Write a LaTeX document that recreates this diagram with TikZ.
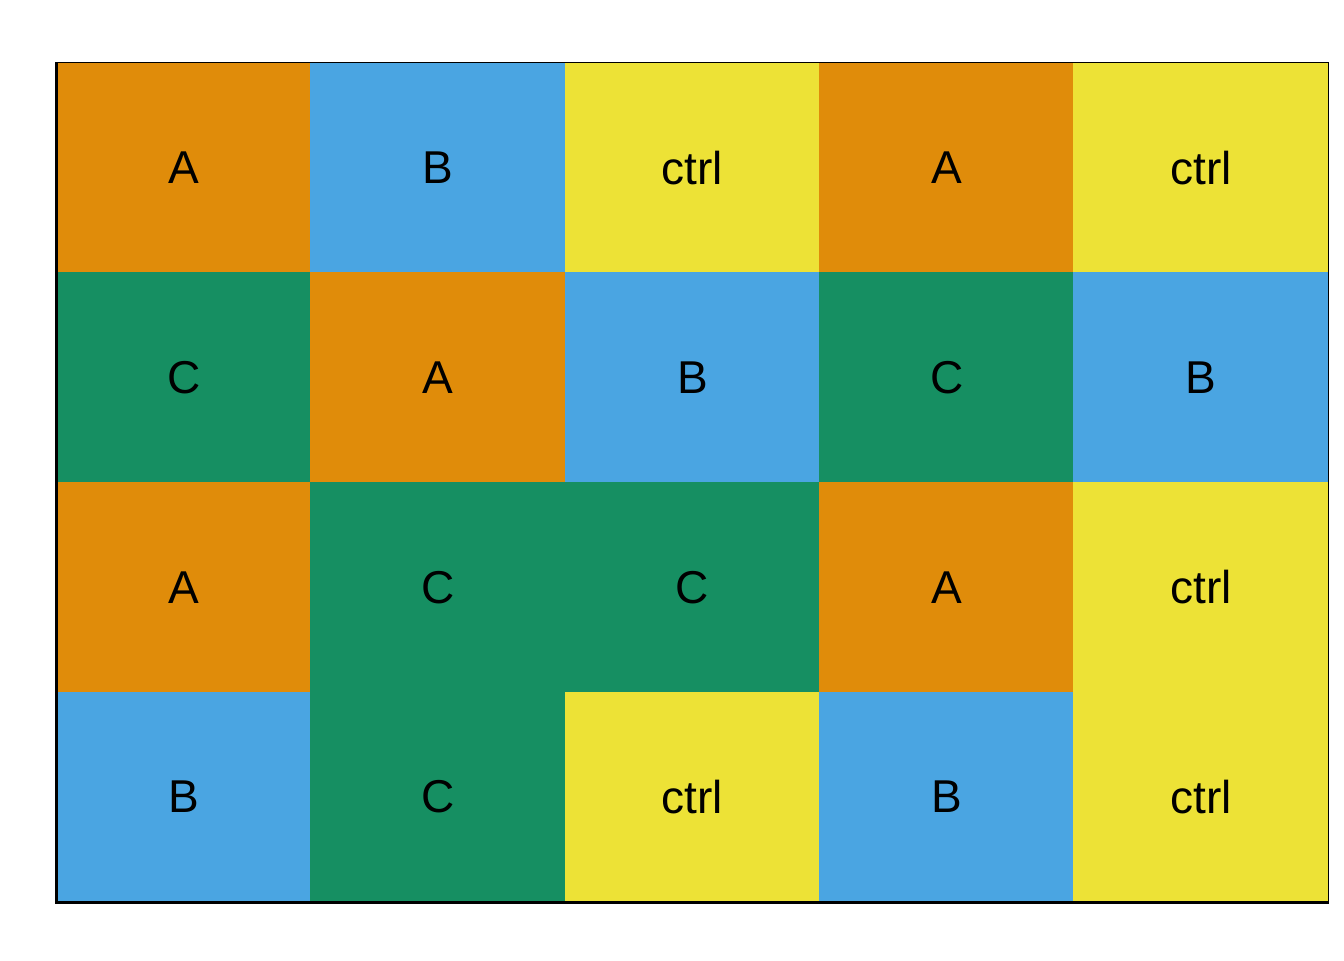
\documentclass[tikz,border=0pt]{standalone}
\usepackage{fontspec}
\setmainfont{Liberation Sans}
\usepackage{tikz}
\usetikzlibrary{positioning}
\definecolor{kA}{RGB}{224,140,10}
\definecolor{kB}{RGB}{74,165,226}
\definecolor{kC}{RGB}{22,143,98}
\definecolor{kctrl}{RGB}{237,226,54}

\begin{document}
\begin{tikzpicture}[
        cell/.style={minimum width=2.542cm, minimum height=2.0975cm, inner sep=0pt, line width=0.4pt, font=\fontsize{13.1pt}{16pt}\selectfont}
    ]
        % page size
        \useasboundingbox (0,0) rectangle (13.44,9.6);
        
        % plots
        \foreach \row [count=\r] in {{A,B,ctrl,A,ctrl},{C,A,B,C,B},{A,C,C,A,ctrl},{B,C,ctrl,B,ctrl}}
        {
            \foreach \lab [count=\c] in \row
            {
                \node[cell, fill=k\lab, draw=k\lab] (p\r\c) at ({0.57+(\c-0.5)*2.542}, {8.97-(\r-0.5)*2.0975}) {\lab};
            }
        }
        
        % panel border
        \draw[line width=0.4pt] (p11.north west) rectangle (p45.south east);
        % axis lines
        \draw[line width=0.9pt] (p11.north west) -- (p41.south west) -- (p45.south east);
    \end{tikzpicture}
\end{document}
